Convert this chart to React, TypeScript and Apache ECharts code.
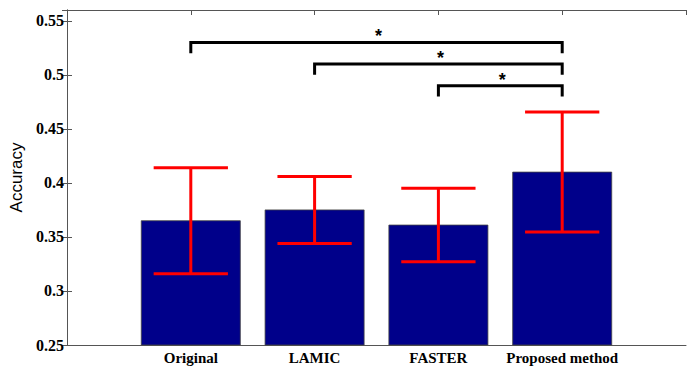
import React, { useEffect, useRef } from "react";
import * as echarts from "echarts";

const categories = ["Original", "LAMIC", "FASTER", "Proposed method"];
const means = [0.365, 0.375, 0.361, 0.41];
const errors = [0.049, 0.031, 0.034, 0.0555];
// significance brackets: [fromCategoryIndex, toCategoryIndex, lineLevel, dropLevel]
const brackets = [
  [1, 4, 0.53, 0.52],
  [2, 4, 0.51, 0.5],
  [3, 4, 0.49, 0.48],
];
const starLabels = ["*", "*", "*"];
const yMin = 0.25;
const yMax = 0.56;
const yStep = 0.05;

export default function App() {
  const ref = useRef<HTMLDivElement>(null);
  useEffect(() => {
    if (!ref.current) return;
    const chart = echarts.init(ref.current, null, { renderer: "svg" });
    const axisColor = "#555";
    const serif = "'Liberation Serif', 'Times New Roman', serif";
    const isMajor = (v: number) => Math.abs(v / yStep - Math.round(v / yStep)) < 1e-6;
    const yLabel = (v: number) => (isMajor(v) ? String(+v.toFixed(2)) : "");
    const xLabel = (v: number) => {
      const i = Math.round(v) - 1;
      return Math.abs(v - Math.round(v)) < 1e-6 && i >= 0 && i < categories.length ? categories[i] : "";
    };
    chart.setOption({
      animation: false,
      backgroundColor: "#fff",
      grid: { left: 67, right: 6, top: 10, bottom: 22 },
      xAxis: [
        {
          type: "value",
          min: 0,
          max: categories.length + 1,
          interval: 1,
          position: "bottom",
          splitLine: { show: false },
          axisLine: { lineStyle: { color: axisColor, width: 1 } },
          axisTick: { show: false },
          axisLabel: {
            formatter: xLabel,
            color: "#000",
            fontFamily: serif,
            fontWeight: "bold",
            fontSize: 15,
            margin: 5,
          },
        },
        {
          type: "value",
          min: 0,
          max: categories.length + 1,
          interval: 1,
          position: "top",
          splitLine: { show: false },
          axisLine: { lineStyle: { color: axisColor, width: 1 } },
          axisTick: { inside: true, length: 5, lineStyle: { color: axisColor } },
          axisLabel: { show: false },
        },
      ],
      yAxis: [
        {
          type: "value",
          min: yMin,
          max: yMax,
          interval: yStep,
          position: "left",
          name: "Accuracy",
          nameLocation: "middle",
          nameGap: 37,
          nameTextStyle: {
            fontFamily: "'Liberation Sans', Arial, sans-serif",
            fontSize: 17,
            color: "#000",
          },
          splitLine: { show: false },
          axisLine: { show: true, lineStyle: { color: axisColor, width: 1 } },
          axisTick: { inside: true, length: 5, lineStyle: { color: axisColor } },
          axisLabel: {
            formatter: yLabel,
            color: "#000",
            fontFamily: serif,
            fontWeight: "bold",
            fontSize: 16,
            margin: 3,
          },
        },
        {
          type: "value",
          min: yMin,
          max: yMax,
          interval: yStep,
          position: "right",
          splitLine: { show: false },
          axisLine: { show: true, lineStyle: { color: axisColor, width: 1 } },
          axisTick: { inside: true, length: 5, lineStyle: { color: axisColor } },
          axisLabel: { show: false },
        },
      ],
      series: [
        {
          type: "custom",
          name: "bars",
          z: 3,
          data: means.map((m, i) => [i + 1, m, errors[i]]),
          renderItem: (params: any, api: any) => {
            const x = api.value(0);
            const m = api.value(1);
            const e = api.value(2);
            const tl = api.coord([x - 0.4, m]);
            const br = api.coord([x + 0.4, yMin]);
            const cTop = api.coord([x, m + e]);
            const cBot = api.coord([x, m - e]);
            const capL = api.coord([x - 0.3, m])[0];
            const capR = api.coord([x + 0.3, m])[0];
            const red = { stroke: "#ff0000", lineWidth: 3 };
            return {
              type: "group",
              children: [
                {
                  type: "rect",
                  shape: { x: tl[0], y: tl[1], width: br[0] - tl[0], height: br[1] - tl[1] },
                  style: { fill: "#00008a", stroke: "#444", lineWidth: 0.8 },
                },
                { type: "line", shape: { x1: cTop[0], y1: cTop[1], x2: cBot[0], y2: cBot[1] }, style: red },
                { type: "line", shape: { x1: capL, y1: cTop[1], x2: capR, y2: cTop[1] }, style: red },
                { type: "line", shape: { x1: capL, y1: cBot[1], x2: capR, y2: cBot[1] }, style: red },
              ],
            };
          },
        },
        {
          type: "custom",
          name: "significance",
          z: 4,
          data: brackets.map((b, i) => [b[0], b[1], b[2], b[3], i]),
          renderItem: (params: any, api: any) => {
            const x1 = api.value(0);
            const x2 = api.value(1);
            const yl = api.value(2);
            const yd = api.value(3);
            const idx = api.value(4);
            const a = api.coord([x1, yl]);
            const b = api.coord([x2, yl]);
            const a2 = api.coord([x1, yd]);
            const b2 = api.coord([x2, yd]);
            const blk = { stroke: "#000", lineWidth: 3, fill: "none" };
            return {
              type: "group",
              children: [
                {
                  type: "polyline",
                  shape: { points: [[a2[0], a2[1]], [a[0], a[1]], [b[0], b[1]], [b2[0], b2[1]]] },
                  style: blk,
                },
                {
                  type: "text",
                  x: (a[0] + b[0]) / 2 + 2,
                  y: a[1] + 3,
                  style: {
                    text: starLabels[idx],
                    fill: "#000",
                    font: "bold 18px 'Liberation Sans', Arial, sans-serif",
                    align: "center",
                    verticalAlign: "bottom",
                  },
                },
              ],
            };
          },
        },
      ],
    });
    return () => chart.dispose();
  }, []);
  return (
    <div
      ref={ref}
      style={{ position: "fixed", left: 0, top: 0, width: 692, height: 367, background: "#fff" }}
    />
  );
}
